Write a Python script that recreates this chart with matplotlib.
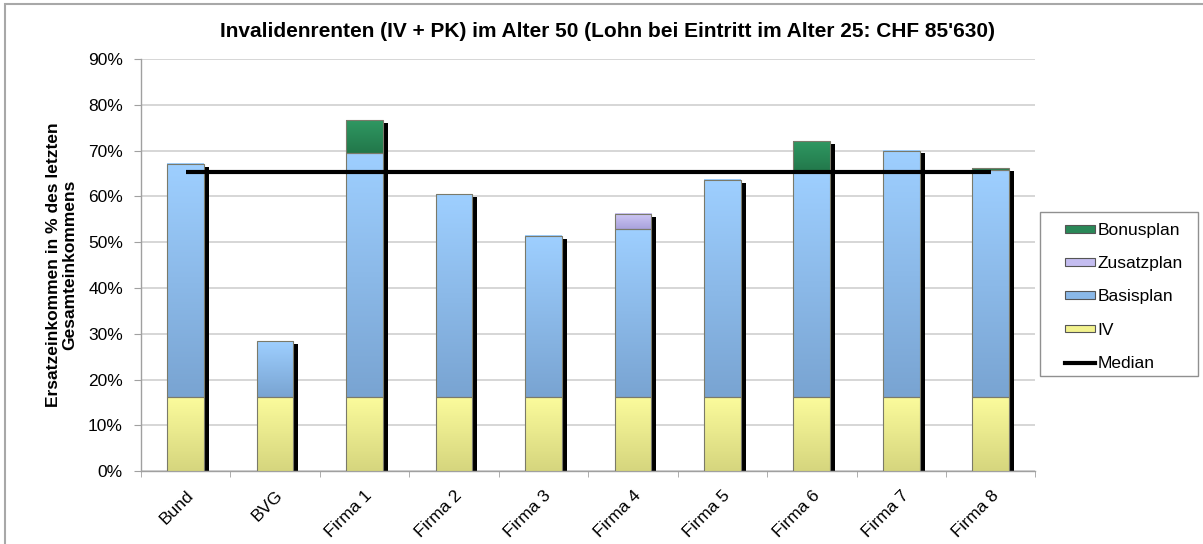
import numpy as np
import matplotlib
matplotlib.use("Agg")
import matplotlib.pyplot as plt
from matplotlib.patches import Rectangle, Patch
from matplotlib.lines import Line2D
from matplotlib.colors import LinearSegmentedColormap

plt.rcParams['font.family'] = ['Liberation Sans', 'DejaVu Sans']

categories = ["Bund", "BVG", "Firma 1", "Firma 2", "Firma 3", "Firma 4",
              "Firma 5", "Firma 6", "Firma 7", "Firma 8"]
iv = [16.2, 16.2, 16.2, 16.2, 16.2, 16.2, 16.2, 16.2, 16.2, 16.2]
basisplan = [50.9, 12.2, 53.3, 44.3, 35.2, 36.7, 47.4, 49.2, 53.8, 49.6]
zusatzplan = [0.0, 0.0, 0.0, 0.0, 0.0, 3.3, 0.0, 0.0, 0.0, 0.0]
bonusplan = [0.0, 0.0, 7.2, 0.0, 0.0, 0.0, 0.0, 6.6, 0.0, 0.3]
median = 65.4

title = "Invalidenrenten (IV + PK) im Alter 50 (Lohn bei Eintritt im Alter 25: CHF 85'630)"
ylabel = "Ersatzeinkommen in % des letzten\nGesamteinkommens"
yticks = [0, 10, 20, 30, 40, 50, 60, 70, 80, 90]

# series: name, values, top colour, bottom colour, legend colour
series = [
    ("IV", iv, "#fbfb9c", "#d6d67e", "#f2f28e"),
    ("Basisplan", basisplan, "#9ecfff", "#79a4d2", "#8ab8e8"),
    ("Zusatzplan", zusatzplan, "#cfc8f5", "#a9a2dc", "#c4bdf0"),
    ("Bonusplan", bonusplan, "#2f9862", "#22774a", "#2a8858"),
]

fig = plt.figure(figsize=(12.03, 5.44), dpi=100)
ax = fig.add_axes([0.1172, 0.134, 0.7435, 0.7575])

width = 0.41
shadow_w = 0.055
x = np.arange(len(categories))
grad = np.linspace(1, 0, 64).reshape(-1, 1)

totals = np.zeros(len(categories))
for name, vals, ctop, cbot, _ in series:
    cmap = LinearSegmentedColormap.from_list(name, [cbot, ctop])
    for i, v in enumerate(vals):
        if v <= 0:
            continue
        x0 = x[i] - width / 2
        y0 = totals[i]
        ax.imshow(grad, extent=[x0, x0 + width, y0, y0 + v], aspect='auto',
                  cmap=cmap, vmin=0, vmax=1, zorder=3, interpolation='bilinear')
        ax.add_patch(Rectangle((x0, y0), width, v, fill=False,
                               edgecolor="#7a7a6a", linewidth=0.8, zorder=4))
        totals[i] += v

# drop shadow on the right of each bar
for i, t in enumerate(totals):
    ax.add_patch(Rectangle((x[i] + width / 2, 0), shadow_w, t - 0.6,
                           facecolor="black", edgecolor="none", zorder=2.5))

ax.plot([x[0], x[-1]], [median, median], color="black", linewidth=3, zorder=5,
        solid_capstyle='butt')

ax.set_xlim(-0.5, len(categories) - 0.5)
ax.set_ylim(0, 90)
ax.set_yticks(yticks)
ax.set_yticklabels([f"{v}%" for v in yticks], fontsize=12.5)
ax.yaxis.grid(True, color="#d0d0d0", linewidth=1.2)
ax.set_axisbelow(True)

ax.set_xticks(x)
ax.set_xticklabels(categories, rotation=45, ha='right', rotation_mode='anchor',
                   fontsize=12.5)
ax.tick_params(axis='x', length=0, pad=12)
ax.set_xticks(np.arange(-0.5, len(categories), 1), minor=True)
ax.tick_params(axis='x', which='minor', length=4, color="#a0a0a0", direction='out')
ax.tick_params(axis='y', length=5, color="#a0a0a0", direction='out', pad=8)

for s in ["top", "right"]:
    ax.spines[s].set_visible(False)
for s in ["left", "bottom"]:
    ax.spines[s].set_color("#a0a0a0")
    ax.spines[s].set_linewidth(1.0)

ax.set_ylabel(ylabel, fontsize=12.5, fontweight='bold', labelpad=8, linespacing=1.05)
fig.text(0.505, 0.943, title, ha='center', va='center', fontsize=15,
         fontweight='bold')

handles = [
    Patch(facecolor=series[3][4], edgecolor="#555555", linewidth=0.8, label="Bonusplan"),
    Patch(facecolor=series[2][4], edgecolor="#555555", linewidth=0.8, label="Zusatzplan"),
    Patch(facecolor=series[1][4], edgecolor="#555555", linewidth=0.8, label="Basisplan"),
    Patch(facecolor=series[0][4], edgecolor="#555555", linewidth=0.8, label="IV"),
    Line2D([0], [0], color="black", linewidth=3, label="Median"),
]
W, H = fig.get_size_inches() * fig.dpi
# legend box frame
fig.add_artist(Rectangle((1040 / W, 1 - 376 / H), 158 / W, 164 / H,
                         transform=fig.transFigure, fill=False,
                         edgecolor="#909090", linewidth=1.0))
fig.legend(handles=handles, loc='upper left',
           bbox_to_anchor=(1065 / W, 1 - 223 / H),
           fontsize=12.5, frameon=False,
           handlelength=1.72, handleheight=0.3, labelspacing=1.05,
           handletextpad=0.17, borderpad=0, borderaxespad=0)

# outer chart border
fig.add_artist(Rectangle((0.004, -0.02), 1.2, 1.012, transform=fig.transFigure,
                         fill=False, edgecolor="#a8a8a8", linewidth=1.5))

fig.savefig("out.png", dpi=100)
